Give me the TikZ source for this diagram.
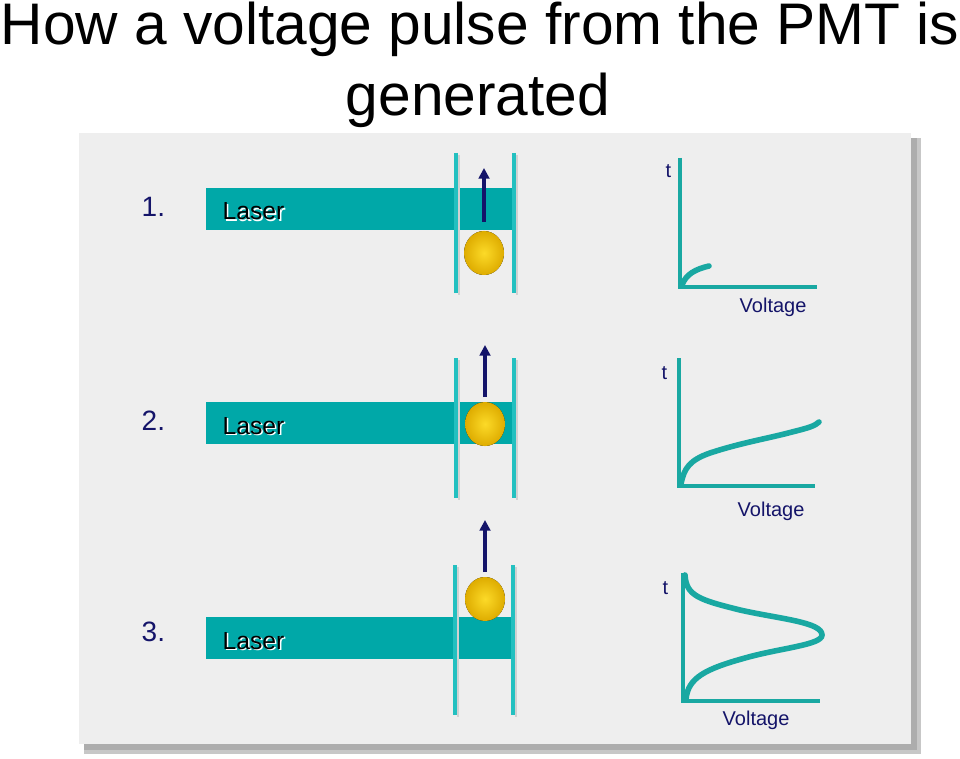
\documentclass[tikz,border=0pt]{standalone}
\usepackage{fontspec}
\setmainfont{Liberation Sans}
\usetikzlibrary{arrows.meta}
\definecolor{navy}{RGB}{20,20,105}
\definecolor{barteal}{RGB}{0,168,168}
\definecolor{lineteal}{RGB}{35,192,192}
\definecolor{axteal}{RGB}{25,168,162}
\definecolor{panelgray}{RGB}{238,238,238}
\definecolor{ballin}{RGB}{252,218,40}
\definecolor{ballout}{RGB}{222,172,0}
\tikzset{
  bar/.style={fill=barteal, draw=none},
  wall/.style={draw=lineteal, line width=2.3pt},
  wallshadow/.style={draw=black!18, line width=2pt},
  uparrow/.style={draw=navy, line width=2.8pt, -{Triangle[width=8pt,length=8pt]}},
  ball/.style={inner color=ballin, outer color=ballout},
  axis/.style={draw=axteal, line width=2.3pt},
  curve/.style={draw=axteal, line width=4.2pt, line cap=round},
  num/.style={anchor=base west, text=navy, font=\fontsize{21}{25}\selectfont},
  laser/.style={anchor=base west, font=\fontsize{18.5}{22}\selectfont},
  laserwhite/.style={anchor=base west, text=white, font=\fontsize{18.5}{22}\selectfont},
  axlabel/.style={anchor=base west, text=navy, font=\fontsize{15}{18}\selectfont},
  title/.style={anchor=base, font=\fontsize{44}{52}\selectfont},
}
\begin{document}
\begin{tikzpicture}[x=0.75pt,y=-0.75pt]
\useasboundingbox (0,0) rectangle (960,759);
% title
\node[title] (t1) at (480,45) {How a voltage pulse from the PMT is};
\node[title] (t2) at (478,116) {generated};
% panel with shadow
\fill[black!22] (84,138) rectangle (921,754);
\fill[black!32] (84,138) rectangle (917,750);
\fill[panelgray] (79,133) rectangle (911,744);

% ---------- row 1 ----------
\node[num] (n1) at (137,217) {1.};
\fill[bar] (206,188) rectangle (514,230);
\node[laserwhite] at (219.5,221.5) {Laser};
\node[laser] (l1) at (218,220) {Laser};
\draw[wallshadow] (459,155) -- (459,295);
\draw[wallshadow] (517,155) -- (517,295);
\draw[wall] (456,153) -- (456,293);
\draw[wall] (514,153) -- (514,293);
\fill[ball] (484,253) ellipse [x radius=20, y radius=22];
\draw[uparrow] (484,222) -- (484,168);
% graph 1
\draw[axis] (680,158) -- (680,287) -- (817,287);
\draw[curve] (682,285) .. controls (686,274) and (696,269) .. (709,266);
\node[axlabel] (tt1) at (661,178) {t};
\node[axlabel] (v1) at (735,312) {Voltage};

% ---------- row 2 ----------
\node[num] (n2) at (137,430) {2.};
\fill[bar] (206,402) rectangle (514,444);
\node[laserwhite] at (219.5,435.5) {Laser};
\node[laser] (l2) at (218,434) {Laser};
\draw[wallshadow] (459,360) -- (459,500);
\draw[wallshadow] (517,360) -- (517,500);
\draw[wall] (456,358) -- (456,498);
\draw[wall] (514,358) -- (514,498);
\fill[ball] (485,424) ellipse [x radius=20, y radius=22];
\draw[uparrow] (485,397) -- (485,345);
% graph 2
\draw[axis] (679,358) -- (679,486) -- (815,486);
\draw[curve] (681,484) .. controls (684,468) and (690,460) .. (710,453)
  .. controls (740,443) and (770,438) .. (792,432)
  .. controls (808,428) and (815,426) .. (819,422);
\node[axlabel] (tt2) at (657,379) {t};
\node[axlabel] (v2) at (733,516) {Voltage};

% ---------- row 3 ----------
\node[num] (n3) at (137,641) {3.};
\fill[bar] (206,617) rectangle (513,659);
\node[laserwhite] at (219.5,650.5) {Laser};
\node[laser] (l3) at (218,649) {Laser};
\draw[wallshadow] (458,567) -- (458,717);
\draw[wallshadow] (516,567) -- (516,717);
\draw[wall] (455,565) -- (455,715);
\draw[wall] (513,565) -- (513,715);
\fill[ball] (485,599) ellipse [x radius=20, y radius=22];
\draw[uparrow] (485,572) -- (485,520);
% graph 3
\draw[axis] (683,573) -- (683,701) -- (820,701);
\draw[curve] (685,575) .. controls (686,596) and (700,600) .. (740,610)
  .. controls (780,619) and (822,622) .. (822,635)
  .. controls (822,645) and (780,648) .. (745,658)
  .. controls (705,669) and (688,678) .. (686,699);
\node[axlabel] (tt3) at (658,594) {t};
\node[axlabel] (v3) at (718,725) {Voltage};
\end{tikzpicture}
\end{document}
